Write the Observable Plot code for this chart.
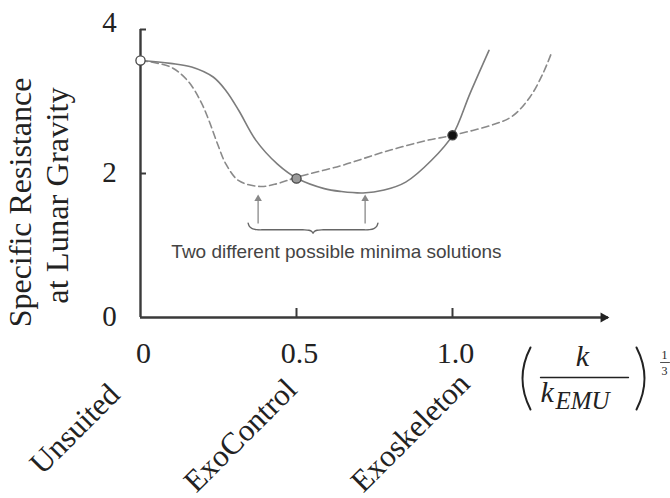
<!DOCTYPE html>
<html>
<head>
<meta charset="utf-8">
<script src="https://cdn.jsdelivr.net/npm/d3@7"></script>
<script src="https://cdn.jsdelivr.net/npm/@observablehq/plot@0.6"></script>
<style>
  html, body { margin: 0; padding: 0; background: #fff; }
  #chart svg { display: block; }
</style>
</head>
<body>
<div id="chart"></div>
<script>
// ---- data ----
const xTicks = [0.5, 1.0];
const xTickValues = [0, 0.5, 1.0];
const xTickLabels = ["0", "0.5", "1.0"];
const yTickMarks = [2, 4];
const yTickValues = [0, 2];
const yTopValue = [4];
const categories = ["Unsuited", "ExoControl", "Exoskeleton"];
const categoryX = [0, 0.5, 1.0];

// solid curve
const solidX = [0, 0.096, 0.164, 0.233, 0.274, 0.315, 0.370, 0.439, 0.503, 0.589, 0.644, 0.713, 0.781, 0.850, 0.932, 1.0, 1.056, 1.117];
const solidY = [3.57, 3.53, 3.48, 3.34, 3.15, 2.875, 2.46, 2.13, 1.93, 1.79, 1.75, 1.73, 1.77, 1.88, 2.18, 2.53, 3.11, 3.71];
// dashed curve
const dashedX = [0, 0.096, 0.151, 0.192, 0.219, 0.247, 0.274, 0.315, 0.384, 0.439, 0.503, 0.644, 0.781, 0.918, 1.0, 1.138, 1.193, 1.248, 1.289, 1.316];
const dashedY = [3.57, 3.48, 3.29, 3.01, 2.74, 2.41, 2.13, 1.90, 1.82, 1.86, 1.95, 2.11, 2.30, 2.46, 2.53, 2.69, 2.80, 3.06, 3.38, 3.66];

// highlighted designs
const markerX = [0, 0.5, 1.0];
const markerY = [3.57, 1.93, 2.53];
const markerFill = ["#ffffff", "#9a9a9a", "#111111"];

// minima arrows
const minimaX = [0.377, 0.72];
const arrowFromY = [1.30, 1.30];
const arrowToY = [1.66, 1.66];
const arrowTipY = [1.69, 1.69];

// brace
const braceX = [0.345, 0.349, 0.358, 0.372, 0.40, 0.52, 0.540, 0.549, 0.553, 0.557, 0.566, 0.586, 0.706, 0.734, 0.748, 0.757, 0.761];
const braceY = [1.31, 1.265, 1.235, 1.220, 1.218, 1.218, 1.212, 1.195, 1.171, 1.195, 1.212, 1.218, 1.218, 1.220, 1.235, 1.265, 1.31];
const annotation = "Two different possible minima solutions";
const annotationX = 0.628, annotationY = 0.82;

const yTitle1 = "Specific Resistance";
const yTitle2 = "at Lunar Gravity";

// ---- tables built from arrays ----
const solid = solidX.map((x, i) => ({x, y: solidY[i]}));
const dashed = dashedX.map((x, i) => ({x, y: dashedY[i]}));
const markers = markerX.map((x, i) => ({x, y: markerY[i], fill: markerFill[i]}));
const arrows = minimaX.map((x, i) => ({x, y1: arrowFromY[i], y2: arrowToY[i], tip: arrowTipY[i]}));
const brace = braceX.map((x, i) => ({x, y: braceY[i]}));
const xLabels = xTickValues.map((x, i) => ({x, label: xTickLabels[i]}));
const cats = categories.map((c, i) => ({x: categoryX[i], label: c}));

const X_MAX = 1.5;
const formulaAnchor = [{x: X_MAX, y: 0}];
const lineShape = {draw(context, l) { context.moveTo(0, 0); context.lineTo(0, -l); }};
const leftParen = {draw(context) { context.moveTo(4, -31); context.quadraticCurveTo(-12, 0, 4, 31); }};
const rightParen = {draw(context) { context.moveTo(-4, -31); context.quadraticCurveTo(12, 0, -4, 31); }};

const axisColor = "#3a3a3a";
const serif = "'Liberation Serif', 'Times New Roman', serif";
const sans = "'Liberation Sans', Arial, sans-serif";
const ink = "#222";

const chart = Plot.plot({
  width: 670,
  height: 498,
  marginLeft: 140,
  marginRight: 62,
  marginTop: 29,
  marginBottom: 181,
  x: {domain: [0, X_MAX], axis: null},
  y: {domain: [0, 4], axis: null},
  style: {background: "#fff", overflow: "visible"},
  marks: [
    // axes
    Plot.ruleX([0], {stroke: axisColor, strokeWidth: 2.4}),
    Plot.ruleY([0], {stroke: axisColor, strokeWidth: 2.4}),
    Plot.dot([X_MAX], {x: d => d, y: 0, symbol: "triangle", rotate: 90, r: 3.8, fill: ink, stroke: "none", dx: -5}),
    Plot.tickY(yTickMarks, {y: d => d, insetRight: 462, stroke: axisColor, strokeWidth: 2}),
    Plot.tickX(xTicks, {x: d => d, insetTop: 279, stroke: axisColor, strokeWidth: 2}),
    // tick labels
    Plot.text(yTickValues, {x: 0, y: d => d, text: d => String(d), dx: -31, dy: -1, fontSize: 29, fontFamily: serif, fill: ink, textAnchor: "middle", lineAnchor: "middle"}),
    Plot.text(yTopValue, {x: 0, y: d => d, text: d => String(d), dx: -31, dy: -7, fontSize: 29, fontFamily: serif, fill: ink, textAnchor: "middle", lineAnchor: "middle"}),
    Plot.text(xLabels, {x: "x", y: 0, text: "label", dx: 3, dy: 36, fontSize: 30, fontFamily: serif, fill: ink, textAnchor: "middle", lineAnchor: "middle"}),
    // category labels
    Plot.text([cats[0]], {x: "x", y: 0, text: "label", dx: -19, dy: 79, rotate: -45, fontSize: 31, fontFamily: serif, fill: ink, textAnchor: "end", lineAnchor: "bottom"}),
    Plot.text([cats[1]], {x: "x", y: 0, text: "label", dx: 2, dy: 74, rotate: -45, fontSize: 31, fontFamily: serif, fill: ink, textAnchor: "end", lineAnchor: "bottom"}),
    Plot.text([cats[2]], {x: "x", y: 0, text: "label", dx: 19, dy: 68, rotate: -45, fontSize: 31, fontFamily: serif, fill: ink, textAnchor: "end", lineAnchor: "bottom"}),
    // y title
    Plot.text([yTitle1], {frameAnchor: "left", text: d => d, dx: -110, dy: 29, rotate: -90, fontSize: 32, fontFamily: serif, fill: ink, textAnchor: "middle", lineAnchor: "bottom"}),
    Plot.text([yTitle2], {frameAnchor: "left", text: d => d, dx: -73, dy: 22, rotate: -90, fontSize: 32.5, fontFamily: serif, fill: ink, textAnchor: "middle", lineAnchor: "bottom"}),
    // curves
    Plot.line(dashed, {x: "x", y: "y", curve: "catmull-rom", stroke: "#8a8a8a", strokeWidth: 1.6, strokeDasharray: "7,4"}),
    Plot.line(solid, {x: "x", y: "y", curve: "catmull-rom", stroke: "#7c7c7c", strokeWidth: 1.6}),
    // minima annotation
    Plot.ruleX(arrows, {x: "x", y1: "y1", y2: "y2", stroke: "#999", strokeWidth: 1.5}),
    Plot.dot(arrows, {x: "x", y: "tip", symbol: "triangle", r: 2.8, fill: "#888", stroke: "none", dy: 3}),
    Plot.line(brace, {x: "x", y: "y", curve: "catmull-rom", stroke: "#666", strokeWidth: 1.4}),
    Plot.text([annotation], {x: annotationX, y: annotationY, text: d => d, fontSize: 19, fontFamily: sans, fill: "#444", textAnchor: "middle", lineAnchor: "bottom"}),
    // markers
    Plot.dot(markers, {x: "x", y: "y", r: 4.6, fill: "fill", stroke: "#444", strokeWidth: 1.3}),
    // formula (k / k_EMU)^(1/3)
    Plot.vector(formulaAnchor, {x: "x", y: "y", rotate: 0, length: 60, anchor: "start", shape: leftParen, dx: -82, dy: 61, stroke: ink, strokeWidth: 2}),
    Plot.vector(formulaAnchor, {x: "x", y: "y", rotate: 0, length: 60, anchor: "start", shape: rightParen, dx: 32, dy: 61, stroke: ink, strokeWidth: 2}),
    Plot.text(formulaAnchor, {x: "x", y: "y", text: () => "k", dx: -26, dy: 48, fontSize: 30, fontStyle: "italic", fontFamily: serif, fill: ink, textAnchor: "middle", lineAnchor: "bottom"}),
    Plot.vector(formulaAnchor, {x: "x", y: "y", rotate: 90, length: 88, anchor: "start", shape: lineShape, dx: -68, dy: 60, stroke: ink, strokeWidth: 1.3}),
    Plot.text(formulaAnchor, {x: "x", y: "y", text: () => "k", dx: -68, dy: 84, fontSize: 30, fontStyle: "italic", fontFamily: serif, fill: ink, textAnchor: "start", lineAnchor: "bottom"}),
    Plot.text(formulaAnchor, {x: "x", y: "y", text: () => "EMU", dx: -53, dy: 91, fontSize: 25, fontStyle: "italic", fontFamily: serif, fill: ink, textAnchor: "start", lineAnchor: "bottom"}),
    Plot.text(formulaAnchor, {x: "x", y: "y", text: () => "1", dx: 56, dy: 41, fontSize: 12, fontFamily: serif, fill: ink, textAnchor: "middle", lineAnchor: "bottom"}),
    Plot.vector(formulaAnchor, {x: "x", y: "y", rotate: 90, length: 9, anchor: "start", shape: lineShape, dx: 52, dy: 45, stroke: ink, strokeWidth: 0.8}),
    Plot.text(formulaAnchor, {x: "x", y: "y", text: () => "3", dx: 56, dy: 57, fontSize: 12, fontFamily: serif, fill: ink, textAnchor: "middle", lineAnchor: "bottom"})
  ]
});
document.getElementById("chart").appendChild(chart);
</script>
</body>
</html>
